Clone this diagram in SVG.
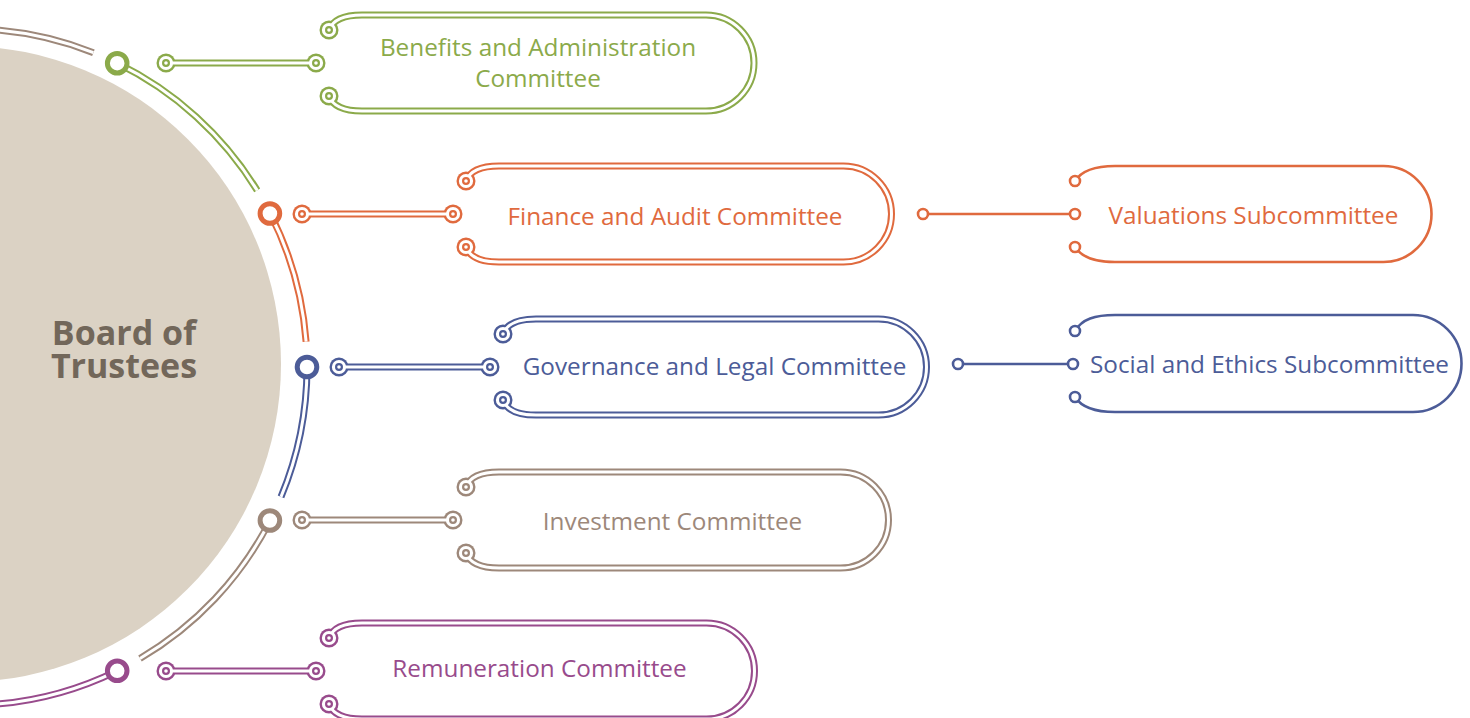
<svg xmlns="http://www.w3.org/2000/svg" width="1470" height="718" viewBox="0 0 1470 718">
<style>
.bc{fill:none;stroke:currentColor;stroke-width:7}
.bw{fill:none;stroke:#fff;stroke-width:3}
.pc{fill:currentColor}
.pw{fill:#fff}
.pd{fill:#fff;stroke:currentColor;stroke-width:2.2}
.ro{fill:#fff;stroke:currentColor;stroke-width:5}
.sl{fill:none;stroke:currentColor;stroke-width:2.6}
.sp{fill:#fff;stroke:currentColor;stroke-width:2.6}
.lbl{font-family:"Open Sans","Noto Sans",sans-serif;font-size:24.3px;fill:currentColor;text-anchor:middle}
.brd{font-family:"Open Sans","Noto Sans",sans-serif;font-weight:bold;font-size:34px;fill:#72675A;text-anchor:middle}
.g{color:#8BAA4A}.o{color:#E06A3E}.b{color:#4C5C98}.t{color:#9D887A}.p{color:#984B8C}
</style>
<rect width="1470" height="718" fill="#fff"/>
<g id="board">
  <circle cx="-37" cy="364" r="318" fill="#DBD2C4"/>
  <text class="brd" x="124" y="345">Board of</text>
  <text class="brd" x="124" y="378">Trustees</text>
</g>
<g id="ring">
  <path class="t bc" d="M -60.5 30.3 A 338 338 0 0 1 93.4 52.7"/>
  <path class="bw" d="M -60.5 30.3 A 338 338 0 0 1 93.4 52.7"/>
  <path class="g bc" d="M 117.2 63.2 A 338 338 0 0 1 257.2 190.4"/>
  <path class="bw" d="M 117.2 63.2 A 338 338 0 0 1 257.2 190.4"/>
  <path class="o bc" d="M 269.9 213 A 338 338 0 0 1 306.1 341.7"/>
  <path class="bw" d="M 269.9 213 A 338 338 0 0 1 306.1 341.7"/>
  <path class="b bc" d="M 307 367 A 338 338 0 0 1 281 496.9"/>
  <path class="bw" d="M 307 367 A 338 338 0 0 1 281 496.9"/>
  <path class="t bc" d="M 269.9 521 A 338 338 0 0 1 140 658.5"/>
  <path class="bw" d="M 269.9 521 A 338 338 0 0 1 140 658.5"/>
  <path class="p bc" d="M 117.2 670.8 A 338 338 0 0 1 -60.5 703.7"/>
  <path class="bw" d="M 117.2 670.8 A 338 338 0 0 1 -60.5 703.7"/>
  <circle class="g ro" cx="117.2" cy="63.2" r="9.8"/>
  <circle class="o ro" cx="269.9" cy="213.5" r="9.8"/>
  <circle class="b ro" cx="307" cy="367" r="9.8"/>
  <circle class="t ro" cx="269.9" cy="520.5" r="9.8"/>
  <circle class="p ro" cx="117.2" cy="670.8" r="9.8"/>
</g>
<g id="connectors">
  <g class="g">
    <path class="bc" d="M 166 63 H 316"/>
    <circle class="pc" cx="166" cy="63" r="9.5"/><circle class="pc" cx="316" cy="63" r="9.5"/>
    <path class="bw" d="M 166 63 H 316"/>
    <circle class="pw" cx="166" cy="63" r="7.1"/><circle class="pw" cx="316" cy="63" r="7.1"/>
    <circle class="pd" cx="166" cy="63" r="2.9"/><circle class="pd" cx="316" cy="63" r="2.9"/>
  </g>
  <g class="o">
    <path class="bc" d="M 302 214 H 453"/>
    <circle class="pc" cx="302" cy="214" r="9.5"/><circle class="pc" cx="453" cy="214" r="9.5"/>
    <path class="bw" d="M 302 214 H 453"/>
    <circle class="pw" cx="302" cy="214" r="7.1"/><circle class="pw" cx="453" cy="214" r="7.1"/>
    <circle class="pd" cx="302" cy="214" r="2.9"/><circle class="pd" cx="453" cy="214" r="2.9"/>
  </g>
  <g class="b">
    <path class="bc" d="M 339 367 H 490"/>
    <circle class="pc" cx="339" cy="367" r="9.5"/><circle class="pc" cx="490" cy="367" r="9.5"/>
    <path class="bw" d="M 339 367 H 490"/>
    <circle class="pw" cx="339" cy="367" r="7.1"/><circle class="pw" cx="490" cy="367" r="7.1"/>
    <circle class="pd" cx="339" cy="367" r="2.9"/><circle class="pd" cx="490" cy="367" r="2.9"/>
  </g>
  <g class="t">
    <path class="bc" d="M 302 520 H 453"/>
    <circle class="pc" cx="302" cy="520" r="9.5"/><circle class="pc" cx="453" cy="520" r="9.5"/>
    <path class="bw" d="M 302 520 H 453"/>
    <circle class="pw" cx="302" cy="520" r="7.1"/><circle class="pw" cx="453" cy="520" r="7.1"/>
    <circle class="pd" cx="302" cy="520" r="2.9"/><circle class="pd" cx="453" cy="520" r="2.9"/>
  </g>
  <g class="p">
    <path class="bc" d="M 166 671 H 316"/>
    <circle class="pc" cx="166" cy="671" r="9.5"/><circle class="pc" cx="316" cy="671" r="9.5"/>
    <path class="bw" d="M 166 671 H 316"/>
    <circle class="pw" cx="166" cy="671" r="7.1"/><circle class="pw" cx="316" cy="671" r="7.1"/>
    <circle class="pd" cx="166" cy="671" r="2.9"/><circle class="pd" cx="316" cy="671" r="2.9"/>
  </g>
  <g class="o">
    <path class="sl" d="M 923 214 H 1075"/>
    <circle class="sp" cx="923" cy="214" r="5"/><circle class="sp" cx="1075" cy="214" r="5"/>
  </g>
  <g class="b">
    <path class="sl" d="M 958 364 H 1073"/>
    <circle class="sp" cx="958" cy="364" r="5"/><circle class="sp" cx="1073" cy="364" r="5"/>
  </g>
</g>
<g id="benefits" class="g">
  <path class="bc" d="M 329 30 C 333 19 344 15 362 15 H 706 A 48 48 0 0 1 706 111 H 362 C 344 111 333 107 329 96"/>
  <circle class="pc" cx="329" cy="30" r="9.5"/><circle class="pc" cx="329" cy="96" r="9.5"/>
  <path class="bw" d="M 329 30 C 333 19 344 15 362 15 H 706 A 48 48 0 0 1 706 111 H 362 C 344 111 333 107 329 96"/>
  <circle class="pw" cx="329" cy="30" r="7.1"/><circle class="pw" cx="329" cy="96" r="7.1"/>
  <circle class="pd" cx="329" cy="30" r="2.9"/><circle class="pd" cx="329" cy="96" r="2.9"/>
  <text class="lbl" x="538" y="56">Benefits and Administration</text>
  <text class="lbl" x="538" y="87">Committee</text>
</g>
<g id="finance" class="o">
  <path class="bc" d="M 466 181 C 470 170 481 166 499 166 H 843.5 A 48 48 0 0 1 843.5 262 H 499 C 481 262 470 258 466 247"/>
  <circle class="pc" cx="466" cy="181" r="9.5"/><circle class="pc" cx="466" cy="247" r="9.5"/>
  <path class="bw" d="M 466 181 C 470 170 481 166 499 166 H 843.5 A 48 48 0 0 1 843.5 262 H 499 C 481 262 470 258 466 247"/>
  <circle class="pw" cx="466" cy="181" r="7.1"/><circle class="pw" cx="466" cy="247" r="7.1"/>
  <circle class="pd" cx="466" cy="181" r="2.9"/><circle class="pd" cx="466" cy="247" r="2.9"/>
  <text class="lbl" x="675" y="225">Finance and Audit Committee</text>
</g>
<g id="governance" class="b">
  <path class="bc" d="M 503 334 C 507 323 518 319 536 319 H 878.5 A 48 48 0 0 1 878.5 415 H 536 C 518 415 507 411 503 400"/>
  <circle class="pc" cx="503" cy="334" r="9.5"/><circle class="pc" cx="503" cy="400" r="9.5"/>
  <path class="bw" d="M 503 334 C 507 323 518 319 536 319 H 878.5 A 48 48 0 0 1 878.5 415 H 536 C 518 415 507 411 503 400"/>
  <circle class="pw" cx="503" cy="334" r="7.1"/><circle class="pw" cx="503" cy="400" r="7.1"/>
  <circle class="pd" cx="503" cy="334" r="2.9"/><circle class="pd" cx="503" cy="400" r="2.9"/>
  <text class="lbl" x="714.5" y="375">Governance and Legal Committee</text>
</g>
<g id="investment" class="t">
  <path class="bc" d="M 466 487 C 470 476 481 472 499 472 H 840.5 A 48 48 0 0 1 840.5 568 H 499 C 481 568 470 564 466 553"/>
  <circle class="pc" cx="466" cy="487" r="9.5"/><circle class="pc" cx="466" cy="553" r="9.5"/>
  <path class="bw" d="M 466 487 C 470 476 481 472 499 472 H 840.5 A 48 48 0 0 1 840.5 568 H 499 C 481 568 470 564 466 553"/>
  <circle class="pw" cx="466" cy="487" r="7.1"/><circle class="pw" cx="466" cy="553" r="7.1"/>
  <circle class="pd" cx="466" cy="487" r="2.9"/><circle class="pd" cx="466" cy="553" r="2.9"/>
  <text class="lbl" x="672.5" y="530">Investment Committee</text>
</g>
<g id="remuneration" class="p">
  <path class="bc" d="M 329 638 C 333 627 344 623 362 623 H 706.5 A 48 48 0 0 1 706.5 719 H 362 C 344 719 333 715 329 704"/>
  <circle class="pc" cx="329" cy="638" r="9.5"/><circle class="pc" cx="329" cy="704" r="9.5"/>
  <path class="bw" d="M 329 638 C 333 627 344 623 362 623 H 706.5 A 48 48 0 0 1 706.5 719 H 362 C 344 719 333 715 329 704"/>
  <circle class="pw" cx="329" cy="638" r="7.1"/><circle class="pw" cx="329" cy="704" r="7.1"/>
  <circle class="pd" cx="329" cy="638" r="2.9"/><circle class="pd" cx="329" cy="704" r="2.9"/>
  <text class="lbl" x="539.5" y="677">Remuneration Committee</text>
</g>
<g id="valuations" class="o">
  <path class="sl" d="M 1075 181 C 1082 170 1095 166 1115 166 H 1383.5 A 48 48 0 0 1 1383.5 262 H 1115 C 1095 262 1082 258 1075 247"/>
  <circle class="sp" cx="1075" cy="181" r="5"/><circle class="sp" cx="1075" cy="247" r="5"/>
  <text class="lbl" x="1253.5" y="224">Valuations Subcommittee</text>
</g>
<g id="social" class="b">
  <path class="sl" d="M 1075 331 C 1082 319 1095 315 1115 315 H 1413 A 48.5 48.5 0 0 1 1413 412 H 1115 C 1095 412 1082 408 1075 397"/>
  <circle class="sp" cx="1075" cy="331" r="5"/><circle class="sp" cx="1075" cy="397" r="5"/>
  <text class="lbl" x="1269.5" y="373">Social and Ethics Subcommittee</text>
</g>
</svg>
